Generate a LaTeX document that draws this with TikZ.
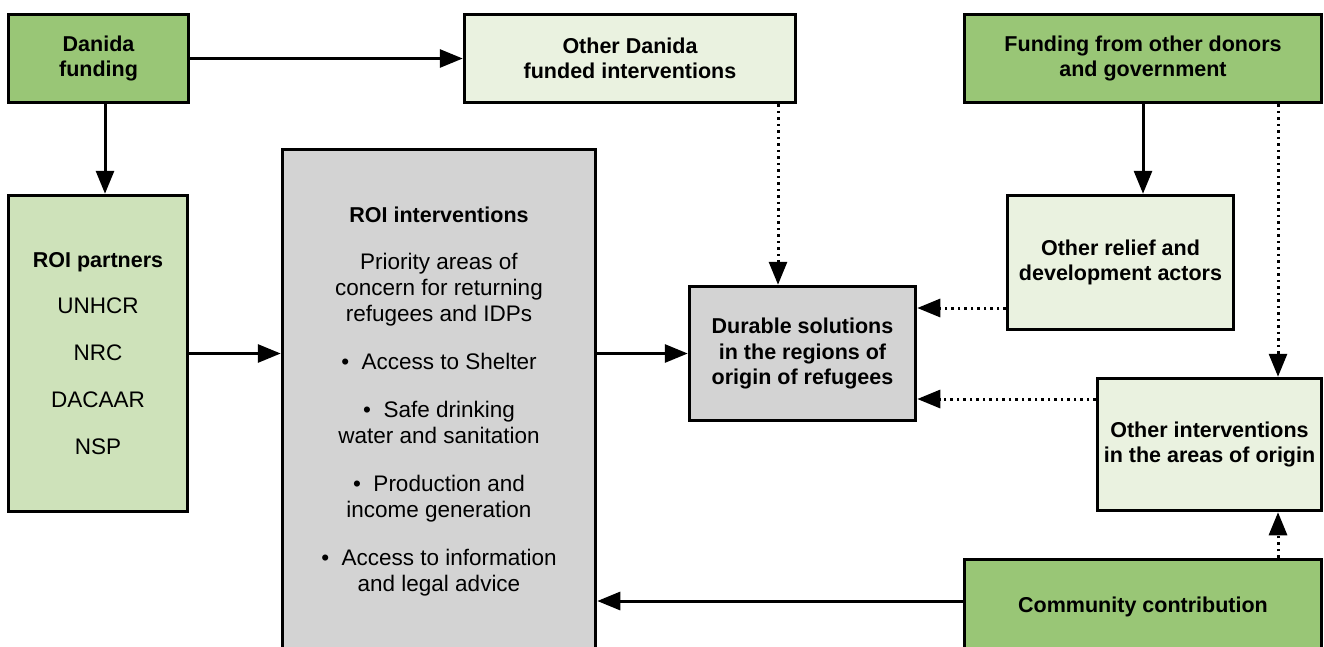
\documentclass[tikz,border=0pt]{standalone}
\usepackage{fontspec}
\setmainfont{Liberation Sans}
\usetikzlibrary{arrows.meta}
\definecolor{dgreen}{RGB}{153,198,118}
\definecolor{lgreen}{RGB}{234,242,224}
\definecolor{mgreen}{RGB}{206,226,186}
\definecolor{gbox}{RGB}{211,211,211}
\newcommand{\rg}{\mdseries\fontsize{22.5}{26}\selectfont}
\begin{document}
\begin{tikzpicture}[x=1pt,y=-1pt,
  box/.style={draw=black,line width=3.5pt,inner sep=0pt,align=center,
    font=\fontsize{21.5}{25.5}\selectfont\bfseries},
  plain/.style={align=center,inner sep=0pt,font=\fontsize{22.5}{26}\selectfont},
  arr/.style={line width=3pt,-{Triangle[length=23pt,width=18pt]}},
  dotarr/.style={arr,dash pattern=on 2.5pt off 4pt}]
\useasboundingbox (0,0) rectangle (1324,646);

\node[box,fill=dgreen,minimum width=180pt,minimum height=88pt] (danida) at (98.5,58.5) {Danida\\funding};
\node[box,fill=lgreen,minimum width=331pt,minimum height=88pt] (odanida) at (630,58.5) {Other Danida\\funded interventions};
\node[box,fill=dgreen,minimum width=357pt,minimum height=88pt] (fund) at (1143,58.5) {Funding from other donors\\and government};
\node[box,fill=mgreen,minimum width=179pt,minimum height=316pt] (partners) at (98,353.5)
  {ROI partners\\[21pt]\rg UNHCR\\[21.5pt]\rg NRC\\[21.5pt]\rg DACAAR\\[21.5pt]\rg NSP};
\node[box,fill=gbox,minimum width=313pt,minimum height=551pt] (roi) at (439,425) {};
\node[plain] (roitext) at (439,402) {{\bfseries\fontsize{21.5}{26}\selectfont ROI interventions}\\[21pt]
  Priority areas of\\concern for returning\\refugees and IDPs\\[22pt]
  \textbullet\ \ Access to Shelter\\[22pt]
  \textbullet\ \ Safe drinking\\ water and sanitation\\[22pt]
  \textbullet\ \ Production and\\ income generation\\[22pt]
  \textbullet\ \ Access to information\\ and legal advice};
\node[box,fill=gbox,minimum width=226pt,minimum height=134pt] (durable) at (802.5,353.5) {Durable solutions\\in the regions of\\origin of refugees};
\node[box,fill=lgreen,minimum width=226pt,minimum height=134pt] (relief) at (1120.5,262.5) {Other relief and\\development actors};
\node[box,fill=lgreen,minimum width=224pt,minimum height=132pt] (ointerv) at (1209.5,444.5) {Other interventions\\in the areas of origin};
\node[box,fill=dgreen,minimum width=357pt,minimum height=95pt] (comm) at (1143,607) {Community contribution};

\draw[arr] (danida.east) -- (odanida.west);
\draw[arr] (danida.south -| 105,0) -- (partners.north -| 105,0);
\draw[arr] (partners.east) -- (partners.east -| roi.west);
\draw[arr] (durable.west -| roi.east) -- (durable.west);
\draw[dotarr] (odanida.south -| 778,0) -- (durable.north -| 778,0);
\draw[arr] (fund.south) -- (fund.south |- relief.north);
\draw[dotarr] (fund.south -| 1278,0) -- (ointerv.north -| 1278,0);
\draw[dotarr] (relief.west |- 0,308) -- (durable.east |- 0,308);
\draw[dotarr] (ointerv.west |- 0,399) -- (durable.east |- 0,399);
\draw[arr] (comm.west |- 0,601) -- (roi.east |- 0,601);
\draw[dotarr] (comm.north -| 1278,0) -- (ointerv.south -| 1278,0);
\end{tikzpicture}
\end{document}
